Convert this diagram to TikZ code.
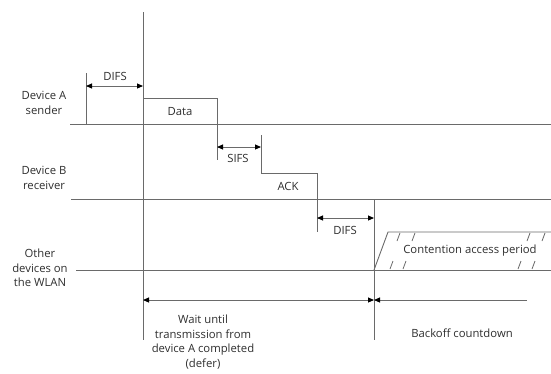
\documentclass[tikz,border=0pt]{standalone}
\usepackage{fontspec}
\setmainfont{Open Sans}
\usetikzlibrary{arrows.meta}
\definecolor{ln}{HTML}{6A6A6A}
\definecolor{tx}{HTML}{2E2E2E}
\begin{document}
\begin{tikzpicture}[x=1pt,y=-1pt,
  tip/.tip={Triangle[length=6pt,width=5pt,fill=black,color=black]},
  line/.style={draw=ln,line width=0.9pt},
  dim/.style={line,tip-tip},
  lbl/.style={text=tx,font=\fontsize{11.3}{14.5}\selectfont,inner sep=0pt,align=center},
  hatch/.style={draw=ln,line width=0.8pt}]
\useasboundingbox (0,0) rectangle (551,373);
% coordinates
\coordinate (mTop) at (143,12);
\coordinate (mBot) at (143,340);
\coordinate (aL) at (70,124);
\coordinate (aR) at (551,124);
\coordinate (bL) at (71,199);
\coordinate (bR) at (551,199);
\coordinate (oL) at (76,270);
\coordinate (oR) at (551,270);
\coordinate (d1t) at (86,73);
\coordinate (d1b) at (86,124);
\coordinate (d1a) at (86,86);
\coordinate (d1c) at (143,86);
\coordinate (dat1) at (143,98);
\coordinate (dat2) at (217,98);
\coordinate (dat3) at (217,160);
\coordinate (s1) at (217,147);
\coordinate (s2) at (261,147);
\coordinate (ack0) at (261,135);
\coordinate (ack1) at (261,173);
\coordinate (ack2) at (317,173);
\coordinate (ack3) at (317,232);
\coordinate (d2a) at (317,218);
\coordinate (d2b) at (374,218);
\coordinate (vTop) at (374,199);
\coordinate (vBot) at (374,340);
\coordinate (c0) at (374,270);
\coordinate (c1) at (388,232);
\coordinate (c2) at (551,232);
\coordinate (w1) at (143,300);
\coordinate (w2) at (374,300);
\coordinate (w3) at (527,300);
% main lines
\draw[line] (mTop) -- (mBot);
\draw[line] (aL) -- (aR);
\draw[line] (bL) -- (bR);
\draw[line] (oL) -- (oR);
\draw[line] (vTop) -- (vBot);
% device A
\draw[line] (d1t) -- (d1b);
\draw[dim] (d1a) -- (d1c);
\draw[line] (dat1) -- (dat2) -- (dat3);
\draw[dim] (s1) -- (s2);
\draw[line] (ack0) -- (ack1) -- (ack2) -- (ack3);
\draw[dim] (d2a) -- (d2b);
% contention
\draw[line] (c0) -- (c1) -- (c2);
\foreach \x in {400,415,530,545}
  \draw[hatch] (\x,233) -- ++(-3,8);
\foreach \x in {393,406,521,535}
  \draw[hatch] (\x,261) -- ++(-3,8);
% wait / backoff arrows
\draw[dim] (w1) -- (w2);
\draw[line,tip-] (w2) -- (w3);
% labels
\node[lbl] (la) at (44,103) {Device A\\sender};
\node[lbl] (lb) at (44,178) {Device B\\receiver};
\node[lbl] (lo) at (40,268) {Other\\devices on\\the WLAN};
\node[lbl] (difs1) at (115,76) {DIFS};
\node[lbl] (data) at (180,112) {Data};
\node[lbl] (sifs) at (238,158) {SIFS};
\node[lbl] (ack) at (288,186) {ACK};
\node[lbl] (difs2) at (345,230) {DIFS};
\node[lbl] (cap) at (470,251) {Contention access period};
\node[lbl] (wait) at (203,342) {Wait until\\transmission from\\device A completed\\(defer)};
\node[lbl] (back) at (462,333) {Backoff countdown};
\end{tikzpicture}
\end{document}
